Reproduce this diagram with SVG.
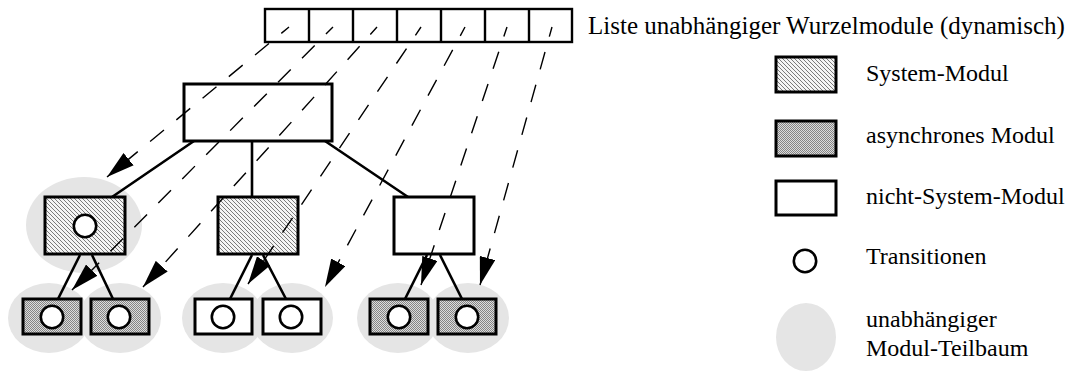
<svg xmlns="http://www.w3.org/2000/svg" width="1069" height="372" viewBox="0 0 1069 372">
  <style>
    .lbl { font-family: "Liberation Serif", "Times New Roman", serif; font-size: 24px; fill: #000; }
    .title { font-size: 25px; }
    .mod { stroke: #000; stroke-width: 3; }
    .sys { fill: url(#hatch); }
    .async { fill: url(#dots); }
    .plain { fill: #fff; }
    .trans { fill: #fff; stroke: #000; stroke-width: 2.6; }
    .tree { fill: #e5e5e5; }
    .edge { stroke: #000; stroke-width: 2.6; fill: none; }
    .ref { stroke: #000; stroke-width: 1.4; fill: none; stroke-dasharray: 18 16; stroke-dashoffset: 8; marker-end: url(#head); }
    .cell { fill: #fff; stroke: #000; stroke-width: 2.4; }
  </style>
  <defs>
    <!-- fine diagonal hatching for system modules -->
    <pattern id="hatch" patternUnits="userSpaceOnUse" width="4" height="4">
      <rect width="4" height="4" fill="#f4f4f4"/>
      <path d="M-1,-1 L5,5 M-1,3 L1,5 M3,-1 L5,1" stroke="#7a7a7a" stroke-width="1"/>
    </pattern>
    <!-- fine stipple for asynchronous modules -->
    <pattern id="dots" patternUnits="userSpaceOnUse" width="2" height="2">
      <rect width="2" height="2" fill="#dcdcdc"/>
      <rect width="1" height="1" fill="#858585"/>
      <rect x="1" y="1" width="1" height="1" fill="#858585"/>
    </pattern>
    <marker id="head" markerUnits="userSpaceOnUse" viewBox="0 0 28 16" markerWidth="28" markerHeight="16" refX="28" refY="8" orient="auto">
      <path d="M0,0 L28,8 L0,16 z" fill="#000"/>
    </marker>
  </defs>

  <!-- list of independent root modules -->
  <g id="root-list">
    <rect class="cell" x="265" y="9" width="307" height="33"/>
    <path d="M309,9 V42 M353,9 V42 M397,9 V42 M441,9 V42 M485,9 V42 M529,9 V42" stroke="#000" stroke-width="2.4"/>
    <text class="lbl title" x="588" y="34">Liste unabhängiger Wurzelmodule (dynamisch)</text>
  </g>

  <!-- independent subtree regions -->
  <g id="subtrees">
    <ellipse class="tree" cx="84" cy="225" rx="58" ry="48"/>
    <ellipse class="tree" cx="49" cy="318" rx="41" ry="35"/>
    <ellipse class="tree" cx="120" cy="318" rx="41" ry="35"/>
    <ellipse class="tree" cx="223" cy="318" rx="41" ry="35"/>
    <ellipse class="tree" cx="292" cy="318" rx="41" ry="35"/>
    <ellipse class="tree" cx="398" cy="318" rx="41" ry="35"/>
    <ellipse class="tree" cx="468" cy="318" rx="41" ry="35"/>
  </g>

  <g id="root">
    <rect class="mod plain" x="184" y="84" width="148" height="57"/>
  </g>

  <g id="mid-left">
    <rect class="mod sys" x="45" y="197" width="80" height="57"/>
    <circle class="trans" cx="85" cy="226" r="11.2"/>
  </g>
  <g id="mid-center">
    <rect class="mod sys" x="218" y="197" width="80" height="57"/>
  </g>
  <g id="mid-right">
    <rect class="mod plain" x="394" y="197" width="80" height="57"/>
  </g>

  <g id="leaf-1">
    <rect class="mod async" x="23" y="299" width="58" height="35"/>
    <circle class="trans" cx="52" cy="317" r="11.2"/>
  </g>
  <g id="leaf-2">
    <rect class="mod async" x="91" y="299" width="58" height="35"/>
    <circle class="trans" cx="119" cy="317" r="11.2"/>
  </g>
  <g id="leaf-3">
    <rect class="mod plain" x="195" y="299" width="57" height="35"/>
    <circle class="trans" cx="223" cy="317" r="11.2"/>
  </g>
  <g id="leaf-4">
    <rect class="mod plain" x="263" y="299" width="58" height="35"/>
    <circle class="trans" cx="291" cy="317" r="11.2"/>
  </g>
  <g id="leaf-5">
    <rect class="mod async" x="370" y="299" width="58" height="35"/>
    <circle class="trans" cx="399" cy="317" r="11.2"/>
  </g>
  <g id="leaf-6">
    <rect class="mod async" x="438" y="299" width="58" height="35"/>
    <circle class="trans" cx="467" cy="317" r="11.2"/>
  </g>

  <!-- legend -->
  <g id="legend-system">
    <rect class="mod sys" x="776" y="57" width="60" height="35"/>
    <text class="lbl" x="866" y="81">System-Modul</text>
  </g>
  <g id="legend-async">
    <rect class="mod async" x="776" y="121" width="60" height="35"/>
    <text class="lbl" x="866" y="143">asynchrones Modul</text>
  </g>
  <g id="legend-plain">
    <rect class="mod plain" x="776" y="181" width="60" height="34"/>
    <text class="lbl" x="866" y="204">nicht-System-Modul</text>
  </g>
  <g id="legend-transition">
    <circle class="trans" cx="805" cy="261" r="11.2"/>
    <text class="lbl" x="866" y="264">Transitionen</text>
  </g>
  <g id="legend-subtree">
    <ellipse class="tree" cx="806" cy="337" rx="30" ry="34"/>
    <text class="lbl" x="866" y="327">unabhängiger</text>
    <text class="lbl" x="866" y="356">Modul-Teilbaum</text>
  </g>

  <!-- module hierarchy edges and references from the root list -->
  <g id="connectors">
    <path class="edge" d="M194,141 L112,197 M252,141 V197 M325,141 L408,197"/>
    <path class="edge" d="M80,255 L58,299 M92,255 L113,299"/>
    <path class="edge" d="M252,255 L230,299 M263,255 L286,299"/>
    <path class="edge" d="M427,255 L405,299 M440,255 L462,299"/>
    <line class="ref" x1="289" y1="27" x2="107" y2="177"/>
    <line class="ref" x1="333" y1="27" x2="72" y2="290"/>
    <line class="ref" x1="377" y1="27" x2="143" y2="287"/>
    <line class="ref" x1="421" y1="27" x2="248" y2="284"/>
    <line class="ref" x1="465" y1="27" x2="325" y2="287"/>
    <line class="ref" x1="507" y1="27" x2="421" y2="285"/>
    <line class="ref" x1="552" y1="27" x2="480" y2="285"/>
  </g>
</svg>
